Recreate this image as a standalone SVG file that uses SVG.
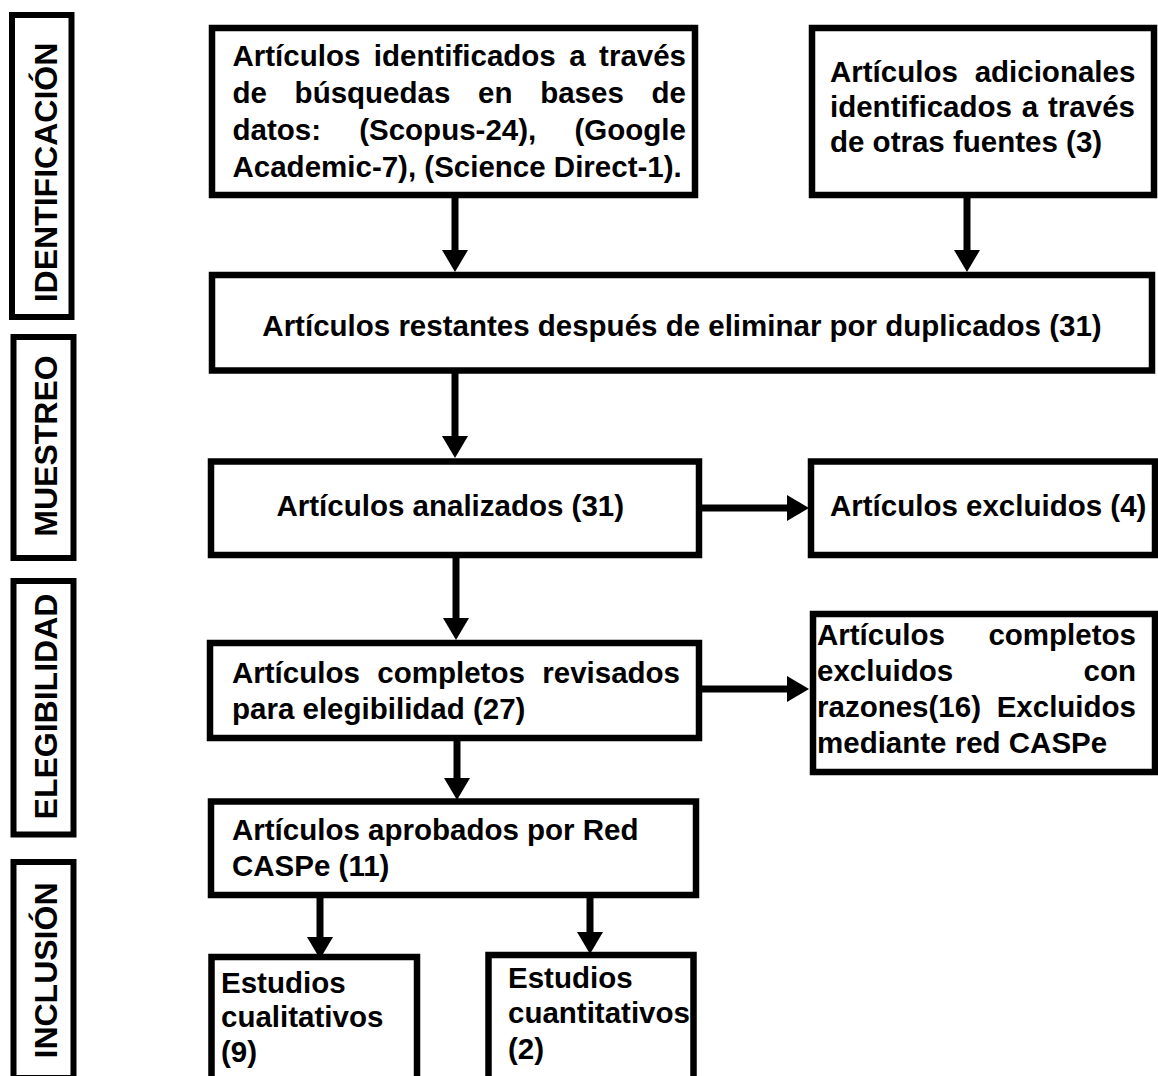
<svg xmlns="http://www.w3.org/2000/svg" width="1158" height="1076" viewBox="0 0 1158 1076">
<style>
.box{fill:#fff;stroke:#000;stroke-width:6.5}
.lab{fill:#fff;stroke:#000;stroke-width:6}
.t{font-family:"Liberation Sans",Arial,sans-serif;font-weight:bold;font-size:29.5px;fill:#000}
.lt{font-family:"Liberation Sans",Arial,sans-serif;font-weight:bold;font-size:32px;fill:#000}
.c{fill:none;stroke:#000;stroke-width:7}
</style>
<defs>
<marker id="ah" markerUnits="userSpaceOnUse" markerWidth="24" markerHeight="28" viewBox="0 0 24 28" refX="0" refY="13" orient="auto">
<path d="M0,0 L22,13 L0,26 z" fill="#000"/>
</marker>
</defs>
<rect width="1158" height="1076" fill="#fff"/>

<g id="lab-identificacion">
<rect class="lab" x="12" y="15" width="59.5" height="302"/>
<text class="lt" text-anchor="middle" transform="translate(57,172.5) rotate(-90)">IDENTIFICACIÓN</text>
</g>
<g id="lab-muestreo">
<rect class="lab" x="13.5" y="337" width="60" height="221"/>
<text class="lt" text-anchor="middle" transform="translate(57,446) rotate(-90)">MUESTREO</text>
</g>
<g id="lab-elegibilidad">
<rect class="lab" x="13.5" y="581" width="60" height="253.5"/>
<text class="lt" text-anchor="middle" transform="translate(57,706.5) rotate(-90)">ELEGIBILIDAD</text>
</g>
<g id="lab-inclusion">
<rect class="lab" x="13.5" y="862" width="60" height="216"/>
<text class="lt" text-anchor="middle" transform="translate(57,970.5) rotate(-90)">INCLUSIÓN</text>
</g>

<g id="connectors">
<line class="c" x1="455" y1="198" x2="455" y2="250" marker-end="url(#ah)"/>
<line class="c" x1="967" y1="198" x2="967" y2="250" marker-end="url(#ah)"/>
<line class="c" x1="455" y1="373" x2="455" y2="436" marker-end="url(#ah)"/>
<line class="c" x1="456" y1="558" x2="456" y2="618" marker-end="url(#ah)"/>
<line class="c" x1="457" y1="741" x2="457" y2="778" marker-end="url(#ah)"/>
<line class="c" x1="320" y1="898" x2="320" y2="937" marker-end="url(#ah)"/>
<line class="c" x1="590" y1="898" x2="590" y2="932" marker-end="url(#ah)"/>
<line class="c" x1="702" y1="508" x2="787" y2="508" marker-end="url(#ah)"/>
<line class="c" x1="702" y1="689" x2="787" y2="689" marker-end="url(#ah)"/>
</g>

<g id="n-identificados">
<rect class="box" x="212" y="28" width="483" height="167"/>
<text class="t" x="232.5" y="66" style="word-spacing:5.27px">Artículos identificados a través</text>
<text class="t" x="232.5" y="103" style="word-spacing:19.5px">de búsquedas en bases de</text>
<text class="t" x="232.5" y="140" style="word-spacing:30px">datos: (Scopus-24), (Google</text>
<text class="t" x="232.5" y="177">Academic-7), (Science Direct-1).</text>
</g>

<g id="n-adicionales">
<rect class="box" x="812" y="28" width="342" height="167"/>
<text class="t" x="830" y="82" style="word-spacing:8.6px">Artículos adicionales</text>
<text class="t" x="830" y="117" style="word-spacing:1.65px">identificados a través</text>
<text class="t" x="830" y="152">de otras fuentes (3)</text>
</g>

<g id="n-restantes">
<rect class="box" x="212" y="275" width="940" height="95.5"/>
<text class="t" x="682" y="336" text-anchor="middle">Artículos restantes después de eliminar por duplicados (31)</text>
</g>

<g id="n-analizados">
<rect class="box" x="211" y="461.5" width="488" height="93.5"/>
<text class="t" x="276.5" y="516">Artículos analizados (31)</text>
</g>

<g id="n-excluidos">
<rect class="box" x="811" y="461.5" width="344" height="93.5"/>
<text class="t" x="830" y="516">Artículos excluidos (4)</text>
</g>

<g id="n-revisados">
<rect class="box" x="210" y="643" width="489" height="95"/>
<text class="t" x="232" y="683" style="word-spacing:9.25px">Artículos completos revisados</text>
<text class="t" x="232" y="719">para elegibilidad (27)</text>
</g>

<g id="n-completos-excluidos">
<rect class="box" x="813" y="614" width="342" height="158"/>
<text class="t" x="817" y="645" style="word-spacing:35.4px">Artículos completos</text>
<text class="t" x="817" y="681" style="word-spacing:122.3px">excluidos con</text>
<text class="t" x="817" y="717" style="word-spacing:7.5px">razones(16) Excluidos</text>
<text class="t" x="817" y="753">mediante red CASPe</text>
</g>

<g id="n-aprobados">
<rect class="box" x="211" y="801.5" width="485" height="93.5"/>
<text class="t" x="232" y="840">Artículos aprobados por Red</text>
<text class="t" x="232" y="876">CASPe (11)</text>
</g>

<g id="n-cualitativos">
<rect class="box" x="211.5" y="957" width="205.5" height="125"/>
<text class="t" x="221" y="993">Estudios</text>
<text class="t" x="221" y="1027">cualitativos</text>
<text class="t" x="221" y="1062">(9)</text>
</g>

<g id="n-cuantitativos">
<rect class="box" x="488.5" y="955" width="205" height="127"/>
<text class="t" x="508" y="988">Estudios</text>
<text class="t" x="508" y="1023">cuantitativos</text>
<text class="t" x="508" y="1059">(2)</text>
</g>
</svg>
